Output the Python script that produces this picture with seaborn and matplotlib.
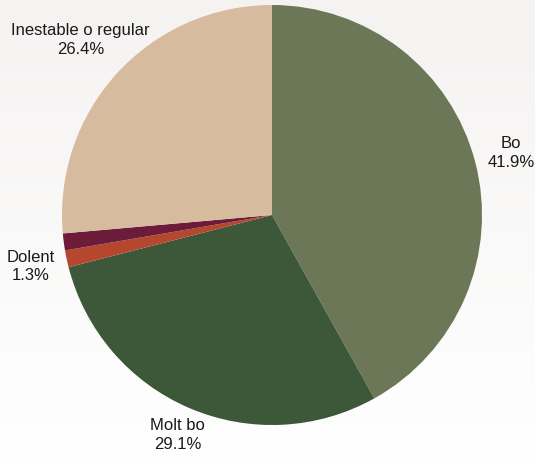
import numpy as np
import matplotlib
matplotlib.use("Agg")
import matplotlib.pyplot as plt
import seaborn as sns

labels = ["Bo", "Molt bo", "Dolent", "", "Inestable o regular"]
shares = [41.9, 29.1, 1.3, 1.3, 26.4]
colors = ["#6b7756", "#3d5739", "#b5472f", "#6c1c3a", "#d7bb9e"]

sns.set_theme(style="white")
plt.rcParams["font.family"] = ["Liberation Sans", "DejaVu Sans"]

W, H = 535, 463
fig = plt.figure(figsize=(W / 100, H / 100), dpi=100)

# faint vertical gradient behind the pie
bg = fig.add_axes([0, 0, 1, 1], zorder=0)
grad = np.linspace(0, 1, 256).reshape(-1, 1)
cmap = matplotlib.colors.LinearSegmentedColormap.from_list("bg", ["#f5f3f2", "#ffffff"])
bg.imshow(grad, aspect="auto", cmap=cmap, extent=[0, 1, 0, 1], origin="upper")
bg.axis("off")

# pie centre (272, 215) px, radius 210 px
r_px = 210
ax = fig.add_axes([(272 - r_px) / W, (H - 215 - r_px) / H, 2 * r_px / W, 2 * r_px / H], zorder=1)
ax.set_facecolor("none")

texts = [f"{l}\n{v:.1f}%" if l else "" for l, v in zip(labels, shares)]
wedges, lbls = ax.pie(shares, labels=texts, colors=colors, startangle=90, counterclock=False,
                      labeldistance=1.15,
                      textprops={"fontsize": 12, "color": "#1a1a1a", "linespacing": 1.3},
                      wedgeprops={"linewidth": 0})
ax.set_xlim(-1, 1)
ax.set_ylim(-1, 1)
ax.set_aspect("auto")

# place each label along its wedge's mid-angle just clear of the rim
renderer = fig.canvas.get_renderer()
R = 1.055
for w, t in zip(wedges, lbls):
    if not t.get_text():
        continue
    t.set_ha("center")
    t.set_va("center")
    t.set_multialignment("center")
    bb = t.get_window_extent(renderer)
    a = bb.width / 2 / r_px
    b = (bb.height / 2 - 4) / r_px
    ang = np.deg2rad((w.theta1 + w.theta2) / 2)
    ux, uy = np.cos(ang), np.sin(ang)
    # where the ray leaves the box
    exit_off = min(a / max(abs(ux), 1e-9), b / max(abs(uy), 1e-9))
    d_ray = R + exit_off
    # box's nearest point sits on radius R
    lo, hi = 0.5, 3.0
    for _ in range(60):
        mid = (lo + hi) / 2
        dx = max(abs(mid * ux) - a, 0)
        dy = max(abs(mid * uy) - b, 0)
        if np.hypot(dx, dy) < R:
            lo = mid
        else:
            hi = mid
    d = (d_ray + hi) / 2
    t.set_position((d * ux, d * uy))

fig.savefig("out.png", dpi=100)
